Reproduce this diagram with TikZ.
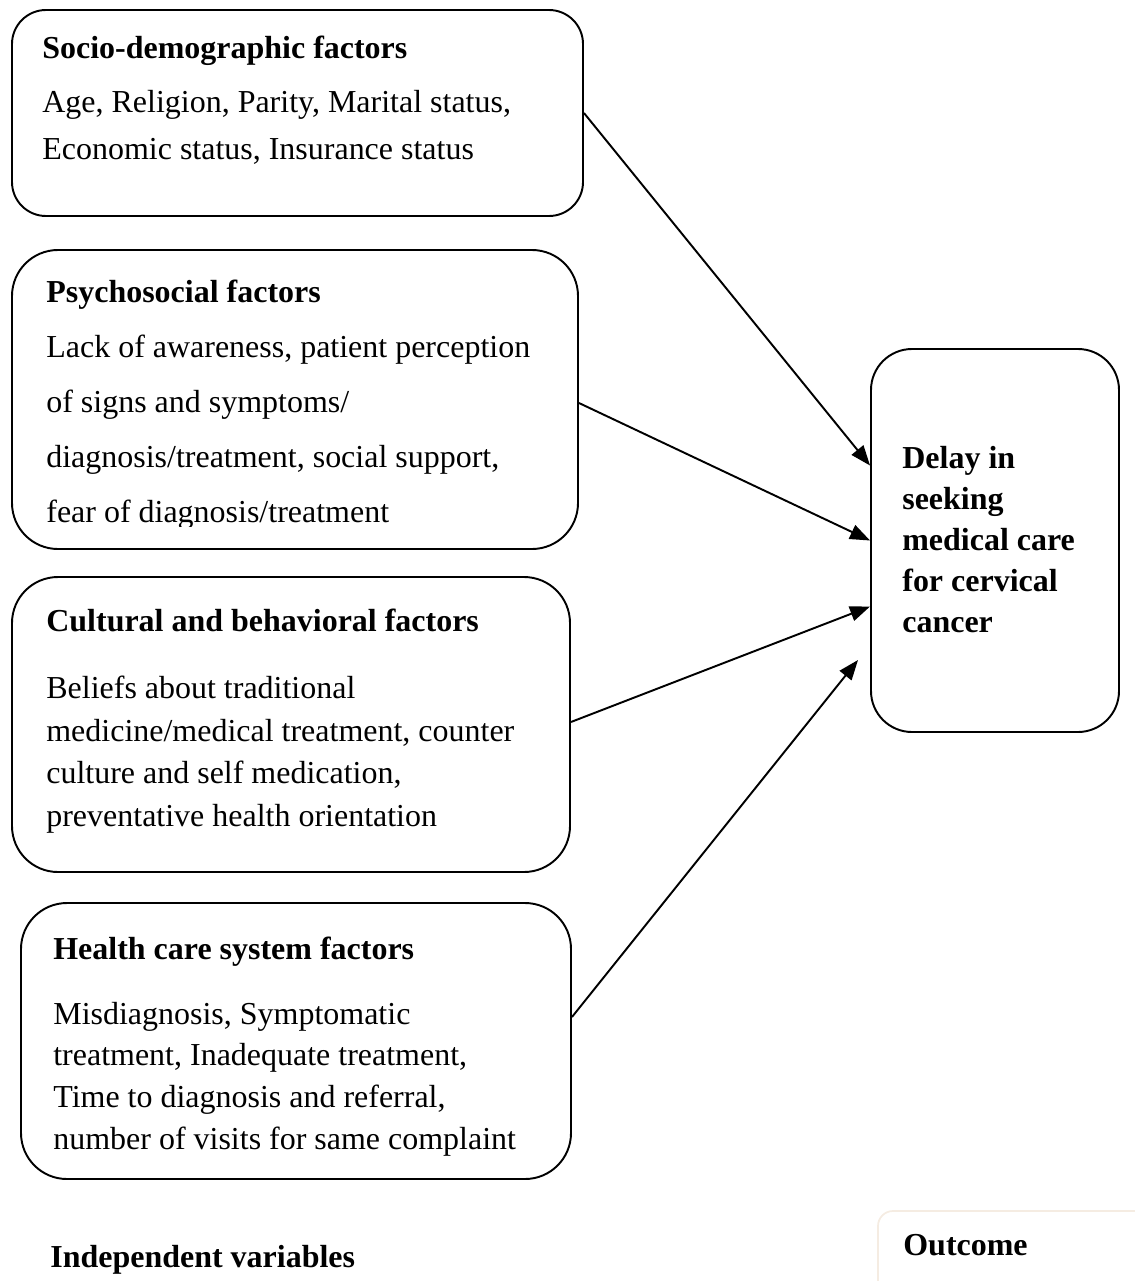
\documentclass[tikz,border=0pt]{standalone}
\usepackage{fontspec}
\setmainfont{Liberation Serif}
\usetikzlibrary{arrows.meta,fit}

\tikzset{
  factor/.style={draw, line width=1.1pt, rounded corners=0.92cm, inner sep=0pt},
  headtxt/.style={anchor=base west, inner sep=0pt, font=\fontsize{18.2}{20}\selectfont\bfseries},
  bodytxt/.style={anchor=base west, inner sep=0pt, align=left, font=\fontsize{18.2}{#1}\selectfont},
  link/.style={line width=1.1pt, -{Triangle[length=0.4cm,width=0.3cm]}}
}

\begin{document}
\begin{tikzpicture}[x=0.02cm, y=-0.02cm]
  \useasboundingbox (0,0) rectangle (1135,1281);

  % boxes
  \node[factor, rounded corners=0.68cm, fit={(12,10) (583,216)}] (socio) {};
  \node[factor, fit={(12,250) (578,549)}] (psycho) {};
  \node[factor, fit={(12,577) (570,872)}] (cultural) {};
  \node[factor, fit={(21,903) (571,1179)}] (health) {};
  \node[factor, rounded corners=0.82cm, fit={(871,349) (1119,732)}] (delay) {};
  \node[draw=brown!15!white, line width=1pt, rounded corners=0.3cm, inner sep=0pt,
        fit={(878,1211) (1170,1300)}] (outbox) {};

  % texts (base = last line)
  \node[headtxt] (sociohead) at (42,58) {Socio-demographic factors};
  \node[bodytxt=26.7pt] (sociobody) at (42,159)
    {Age, Religion, Parity, Marital status,\\ Economic status, Insurance status};

  \node[headtxt] (psychohead) at (46,302) {Psychosocial factors};
  \begin{scope}
    \clip (0,0) rectangle (1135,526);
    \node[bodytxt=31.3pt] (psychobody) at (46,522)
      {Lack of awareness, patient perception\\ of signs and symptoms/\\
       diagnosis/treatment, social support,\\ fear of diagnosis/treatment};
  \end{scope}

  \node[headtxt] (culthead) at (46,631) {Cultural and behavioral factors};
  \node[bodytxt=24.1pt] (cultbody) at (46,826)
    {Beliefs about traditional\\ medicine/medical treatment, counter\\
     culture and self medication,\\ preventative health orientation};

  \node[headtxt] (healthhead) at (53,959) {Health care system factors};
  \node[bodytxt=23.7pt] (healthbody) at (53,1149)
    {Misdiagnosis, Symptomatic\\ treatment, Inadequate treatment,\\
     Time to diagnosis and referral,\\ number of visits for same complaint};

  \node[bodytxt=23.3pt, font=\fontsize{18.2}{23.3}\selectfont\bfseries] (delaytxt) at (902,632)
    {Delay in\\ seeking\\ medical care\\ for cervical\\ cancer};

  \node[headtxt] (outtxt) at (903,1255) {Outcome};
  \node[headtxt] (indtxt) at (50,1267) {Independent variables};

  % arrows
  \coordinate (hcend) at (858,660);
  \draw[link] (socio.east) -- ([yshift=1.5cm]delay.west);
  \draw[link] ([yshift=-0.07cm]psycho.east) -- (delay.west);
  \draw[link] ([yshift=0.05cm]cultural.east) -- ([yshift=-1.32cm]delay.west);
  \draw[link] ([yshift=0.48cm]health.east) -- (hcend);
\end{tikzpicture}
\end{document}
